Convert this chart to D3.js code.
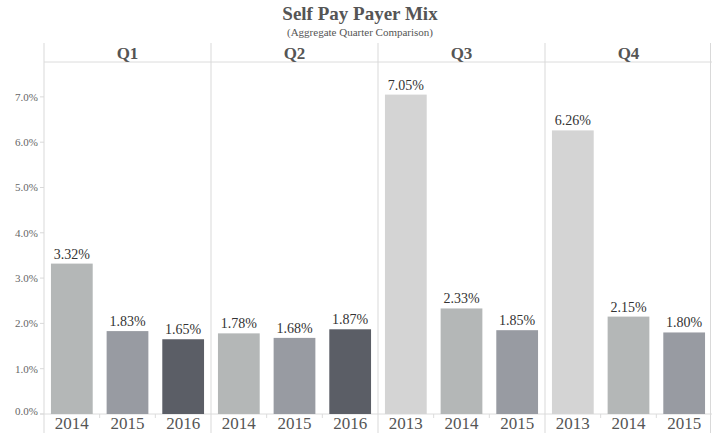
<!DOCTYPE html>
<html>
<head>
<meta charset="utf-8">
<script src="https://cdn.jsdelivr.net/npm/d3@7"></script>
<style>
  body { margin: 0; background: #fff; }
  svg { display: block; font-family: "Liberation Serif", "Times New Roman", serif; }
</style>
</head>
<body>
<div id="chart"></div>
<script>
const quarters = ["Q1", "Q2", "Q3", "Q4"];
const years = [
    ["2014", "2015", "2016"],
    ["2014", "2015", "2016"],
    ["2013", "2014", "2015"],
    ["2013", "2014", "2015"]
];
const values = [
    [3.32, 1.83, 1.65],
    [1.78, 1.68, 1.87],
    [7.05, 2.33, 1.85],
    [6.26, 2.15, 1.80]
];
const yTicks = [0, 1, 2, 3, 4, 5, 6, 7];
const yearColors = { "2013": "#d4d4d4", "2014": "#b4b7b7", "2015": "#989ba2", "2016": "#5b5e66" };

const W = 712, H = 433;
const left = 44, right = 712, headTop = 43, plotTop = 62, baseY = 414;

const svg = d3.select("#chart").append("svg")
    .attr("width", W).attr("height", H);

svg.append("text")
    .attr("x", 360).attr("y", 20)
    .attr("text-anchor", "middle")
    .attr("font-size", 19).attr("font-weight", "bold")
    .attr("fill", "#555")
    .text("Self Pay Payer Mix");
svg.append("text")
    .attr("x", 360).attr("y", 36)
    .attr("text-anchor", "middle")
    .attr("font-size", 11)
    .attr("fill", "#555")
    .text("(Aggregate Quarter Comparison)");

const x = d3.scaleBand().domain(quarters).range([left, right]);
const y = d3.scaleLinear().domain([0, 7.77]).range([baseY, plotTop]);

// y axis
svg.append("line")
    .attr("x1", left).attr("x2", left)
    .attr("y1", headTop).attr("y2", H)
    .attr("stroke", "#d9d9d9");
yTicks.forEach(t => {
    svg.append("line")
        .attr("x1", left - 4).attr("x2", left)
        .attr("y1", y(t)).attr("y2", y(t))
        .attr("stroke", "#d9d9d9");
    svg.append("text")
        .attr("x", left - 6)
        .attr("y", t === 0 ? y(t) - 3 : y(t))
        .attr("dy", "0.35em")
        .attr("text-anchor", "end")
        .attr("font-size", 11)
        .attr("fill", "#666")
        .text(d3.format(".1f")(t) + "%");
});

// header line and baseline
svg.append("line")
    .attr("x1", left).attr("x2", right)
    .attr("y1", plotTop).attr("y2", plotTop)
    .attr("stroke", "#dcdcdc");
svg.append("line")
    .attr("x1", left - 4).attr("x2", right)
    .attr("y1", baseY).attr("y2", baseY)
    .attr("stroke", "#dcdcdc");

quarters.forEach((q, qi) => {
    const x0 = x(q);
    const bw = x.bandwidth();
    const sepX = qi === quarters.length - 1 ? x0 + bw - 1.5 : x0 + bw;
    svg.append("line")
        .attr("x1", sepX).attr("x2", sepX)
        .attr("y1", headTop).attr("y2", H)
        .attr("stroke", "#d9d9d9");
    svg.append("text")
        .attr("x", x0 + bw / 2).attr("y", 59)
        .attr("text-anchor", "middle")
        .attr("font-size", 17).attr("font-weight", "bold")
        .attr("fill", "#555")
        .text(q);

    const xi = d3.scaleBand().domain(years[qi])
        .range([x0, x0 + bw])
        .paddingInner(0.25).paddingOuter(0.125);

    // band boundary ticks
    years[qi].slice(1).forEach(yr => {
        const bx = xi(yr) - xi.step() * xi.paddingInner() / 2;
        svg.append("line")
            .attr("x1", bx).attr("x2", bx)
            .attr("y1", baseY).attr("y2", baseY + 4)
            .attr("stroke", "#dcdcdc");
    });

    years[qi].forEach((yr, i) => {
        const v = values[qi][i];
        svg.append("rect")
            .attr("x", xi(yr)).attr("width", xi.bandwidth())
            .attr("y", y(v)).attr("height", baseY - y(v))
            .attr("fill", yearColors[yr]);
        svg.append("text")
            .attr("x", xi(yr) + xi.bandwidth() / 2)
            .attr("y", y(v) - 5)
            .attr("text-anchor", "middle")
            .attr("font-size", 14)
            .attr("fill", "#333")
            .text(v.toFixed(2) + "%");
        svg.append("text")
            .attr("x", xi(yr) + xi.bandwidth() / 2)
            .attr("y", 429)
            .attr("text-anchor", "middle")
            .attr("font-size", 17)
            .attr("fill", "#555")
            .text(yr);
    });
});
</script>
</body>
</html>
